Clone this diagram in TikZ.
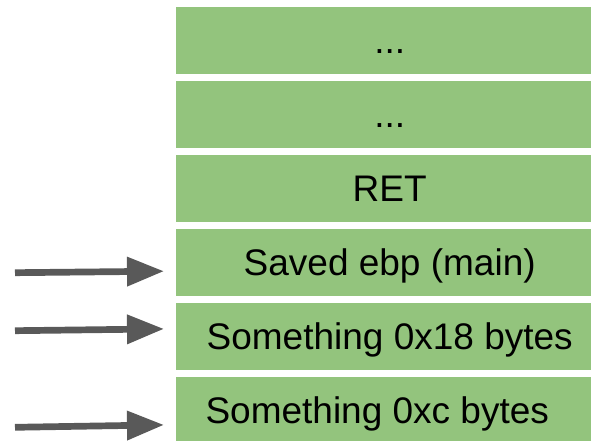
\documentclass[tikz,border=0pt]{standalone}
\usepackage{fontspec}
\setmainfont{Liberation Sans}
\usetikzlibrary{arrows.meta}
\definecolor{cellgreen}{HTML}{93C47D}
\definecolor{arrowgray}{HTML}{595959}
\begin{document}
\begin{tikzpicture}[x=1pt,y=-1pt,
  cellfont/.style={font=\fontsize{37}{44}\selectfont, text height=26.5pt, text depth=0pt},
  cell/.style={cellfont, fill=cellgreen, draw=none, minimum width=427pt,
    minimum height=67pt, inner sep=0pt, anchor=north west},
  lbl/.style={cellfont, inner sep=0pt},
  pointer/.style={draw=arrowgray, line width=6.7pt,
    -{Triangle[length=37pt,width=28pt]}}]
\clip (0,0) rectangle (591,441);

% stack frame cells, top to bottom
\node[cell] (c1) at (176,7)   {...};
\node[cell] (c2) at (176,81)  {...};
\node[cell] (c3) at (176,155) {RET};
\node[cell] (c4) at (176,229) {Saved ebp (main)};
\node[cell] (c5) at (176,303) {Something 0x18 bytes};
\node[cell] (c6) at (176,377) {};
\node[lbl, anchor=west] (t6) at ([xshift=29.3pt]c6.west) {Something 0xc bytes};

% pointers into the stack
\coordinate (p1) at (15,272.7);
\coordinate (p2) at (15,330.7);
\coordinate (p3) at (15,427.3);
\draw[pointer] (p1) -- ([xshift=-12pt,yshift=-8.5pt]c4.west);
\draw[pointer] (p2) -- ([xshift=-12pt,yshift=7.8pt]c5.west);
\draw[pointer] (p3) -- ([xshift=-12pt,yshift=-14.2pt]c6.west);
\end{tikzpicture}
\end{document}
